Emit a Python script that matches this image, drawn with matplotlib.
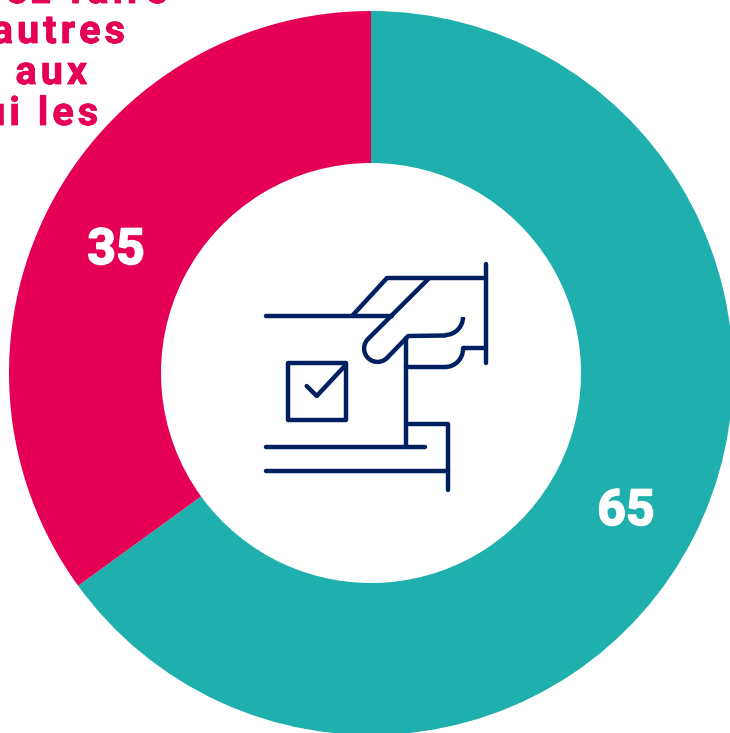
import matplotlib
matplotlib.use('Agg')
import matplotlib.pyplot as plt
from matplotlib.patches import Arc, Rectangle
import matplotlib.patheffects as pe

W, H = 730, 733
TEAL = '#1fb0ae'
RED = '#e50056'
NAVY = '#002060'

# shares, clockwise from 12 o'clock
values = [65, 35]
value_labels = ['65', '35']
colors = [TEAL, RED]
title_lines = ['ez faire', 'autres', 'aux', 'qui les']

plt.rcParams['font.family'] = ['Roboto', 'DejaVu Sans']

fig = plt.figure(figsize=(W / 100, H / 100), dpi=100)
ax = fig.add_axes([0, 0, 1, 1])

def yy(py):
  return H - py

ax.pie(values, colors=colors, startangle=90, counterclock=False,
       center=(371, yy(373)), radius=362,
       wedgeprops=dict(width=152, linewidth=0))
ax.set_aspect('equal')
ax.set_xlim(0, W)
ax.set_ylim(0, H)
ax.axis('off')

bold = [pe.withStroke(linewidth=1.2, foreground='white')]
ax.text(626, yy(525), value_labels[0], color='white', fontsize=36, fontweight='bold',
        ha='center', va='baseline', path_effects=bold)
ax.text(116, yy(264), value_labels[1], color='white', fontsize=36, fontweight='bold',
        ha='center', va='baseline', path_effects=bold)

# clipped title, letter spaced with hair spaces
hair = '\u200a'
title_fx = [pe.withStroke(linewidth=0.6, foreground=RED)]
for line, right, py in zip(title_lines, [167, 125, 87, 98], [3, 43, 84, 125]):
  ax.text(right, yy(py), hair.join(line), color=RED, fontsize=28.5, fontweight='bold',
          ha='right', va='baseline', clip_on=False, path_effects=title_fx)

# ballot icon
LW = 3.2

def seg(*pts):
  ax.plot([p[0] for p in pts], [yy(p[1]) for p in pts], color=NAVY, lw=LW,
          solid_capstyle='round', solid_joinstyle='round')

def arc(cx, cy, r, a1, a2):
  ax.add_patch(Arc((cx, yy(cy)), 2 * r, 2 * r, theta1=a1, theta2=a2, color=NAVY, lw=LW))

seg((386.7, 278.3), (486, 278.3))
seg((486, 264), (486, 363))
seg((386.7, 278.3), (352.3, 315.7))
seg((265.5, 315.7), (391.7, 315.7))
seg((429, 278.3), (368, 339))
arc(377.5, 348.5, 13.4, 135, 315)
seg((387, 358), (408.3, 336), (445, 335.5))
arc(445, 317, 18, 270, 360)
seg((486, 348.3), (463, 348.3))
arc(445, 349, 18, 270, 360)
seg((445, 367.3), (405.7, 367.3))
seg((405.7, 338), (405.7, 447.3))
seg((265.5, 447.3), (425, 447.3))
seg((405.7, 424), (448.3, 424), (448.3, 490))
seg((265.5, 471.3), (448.3, 471.3))
ax.add_patch(Rectangle((287.7, yy(420)), 58, 57.3, fill=False, edgecolor=NAVY, lw=LW, joinstyle='round'))
seg((306.7, 386), (316.7, 396), (345.7, 365))

fig.savefig('out.png', dpi=100)
